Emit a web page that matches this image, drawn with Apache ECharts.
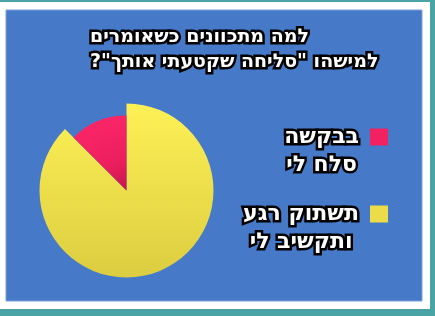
<!DOCTYPE html>
<html>
<head>
<meta charset="utf-8">
<script src="https://cdn.jsdelivr.net/npm/echarts@6/dist/echarts.min.js"></script>
<style>html,body{margin:0;padding:0;}#c{width:435px;height:316px;}</style>
</head>
<body>
<div id="c"></div>
<script>
const titleLines = ['למה מתכוונים כשאומרים', 'למישהו "סליחה שקטעתי אותך"?\u200F'];
const categories = ['בבקשה סלח לי', 'תשתוק רגע ותקשיב לי'];
const legendLines = [['בבקשה', 'סלח לי'], ['תשתוק רגע', 'ותקשיב לי']];
const values = [12.5, 87.5];
const colors = ['#f22262', '#ebdc4a'];

const FONT = '"DejaVu Sans", "Liberation Sans", sans-serif';
const chart = echarts.init(document.getElementById('c'), null, {renderer: 'canvas'});

const pinkGrad = new echarts.graphic.RadialGradient(1, 1, 1.3, [
  {offset: 0, color: '#c4164e'}, {offset: 0.45, color: '#ec1f5e'}, {offset: 1, color: '#f82566'}
]);
const yellowGrad = new echarts.graphic.LinearGradient(0, 0, 0, 1, [
  {offset: 0, color: '#fdf056'}, {offset: 1, color: '#dccd40'}
]);
const clear = 'rgba(0,0,0,0)';

const commonPie = {
  type: 'pie', center: [126.5, 190.5], startAngle: 90, clockwise: false,
  silent: true, label: {show: false}, labelLine: {show: false},
  emphasis: {disabled: true}, animation: false
};

chart.setOption({
  backgroundColor: '#4aa4a6',
  animation: false,
  graphic: [
    {type: 'rect', shape: {x: 0, y: 2, width: 430, height: 307}, style: {fill: '#ffffff'}, z: -10, silent: true},
    {type: 'rect', shape: {x: 6, y: 10, width: 416, height: 291}, style: {fill: '#467ac8', stroke: '#7aa0dc', lineWidth: 1}, z: -9, silent: true}
  ],
  title: {
    text: titleLines.join('\n'),
    left: 90, top: 25, padding: 0, textAlign: 'left',
    textStyle: {
      fontFamily: FONT, fontWeight: 'bold', fontSize: 19, lineHeight: 25,
      color: '#ffffff', textBorderColor: '#000000', textBorderWidth: 5
    }
  },
  legend: {
    orient: 'vertical', align: 'right', right: 47, top: 95, padding: 0,
    itemWidth: 18, itemHeight: 17, itemGap: -7,
    icon: 'rect',
    data: categories.map((n, i) => ({name: n, itemStyle: {color: colors[i]}})),
    formatter: function (name) {
      const i = categories.indexOf(name);
      return legendLines[i].map(s => '{t|' + s + '}').join('\n');
    },
    textStyle: {
      padding: [28, 6, 0, 0],
      fontFamily: FONT, fontWeight: 'bold', fontSize: 22, lineHeight: 28,
      color: '#ffffff', textBorderColor: '#000000', textBorderWidth: 5,
      rich: {
        t: {align: 'center', fontFamily: FONT, fontWeight: 'bold', fontSize: 22, lineHeight: 28,
            color: '#ffffff', textBorderColor: '#000000', textBorderWidth: 5}
      }
    }
  },
  series: [
    Object.assign({}, commonPie, {
      name: 'outer', radius: 87,
      data: [
        {name: categories[0], value: values[0], itemStyle: {color: clear}},
        {name: categories[1], value: values[1], itemStyle: {color: yellowGrad}}
      ],
      itemStyle: {borderWidth: 0}
    }),
    Object.assign({}, commonPie, {
      name: 'inner', radius: 75,
      data: [
        {name: categories[0], value: values[0], itemStyle: {color: pinkGrad}},
        {name: categories[1], value: values[1], itemStyle: {color: clear}}
      ],
      itemStyle: {borderWidth: 0}
    })
  ]
});
</script>
</body>
</html>
